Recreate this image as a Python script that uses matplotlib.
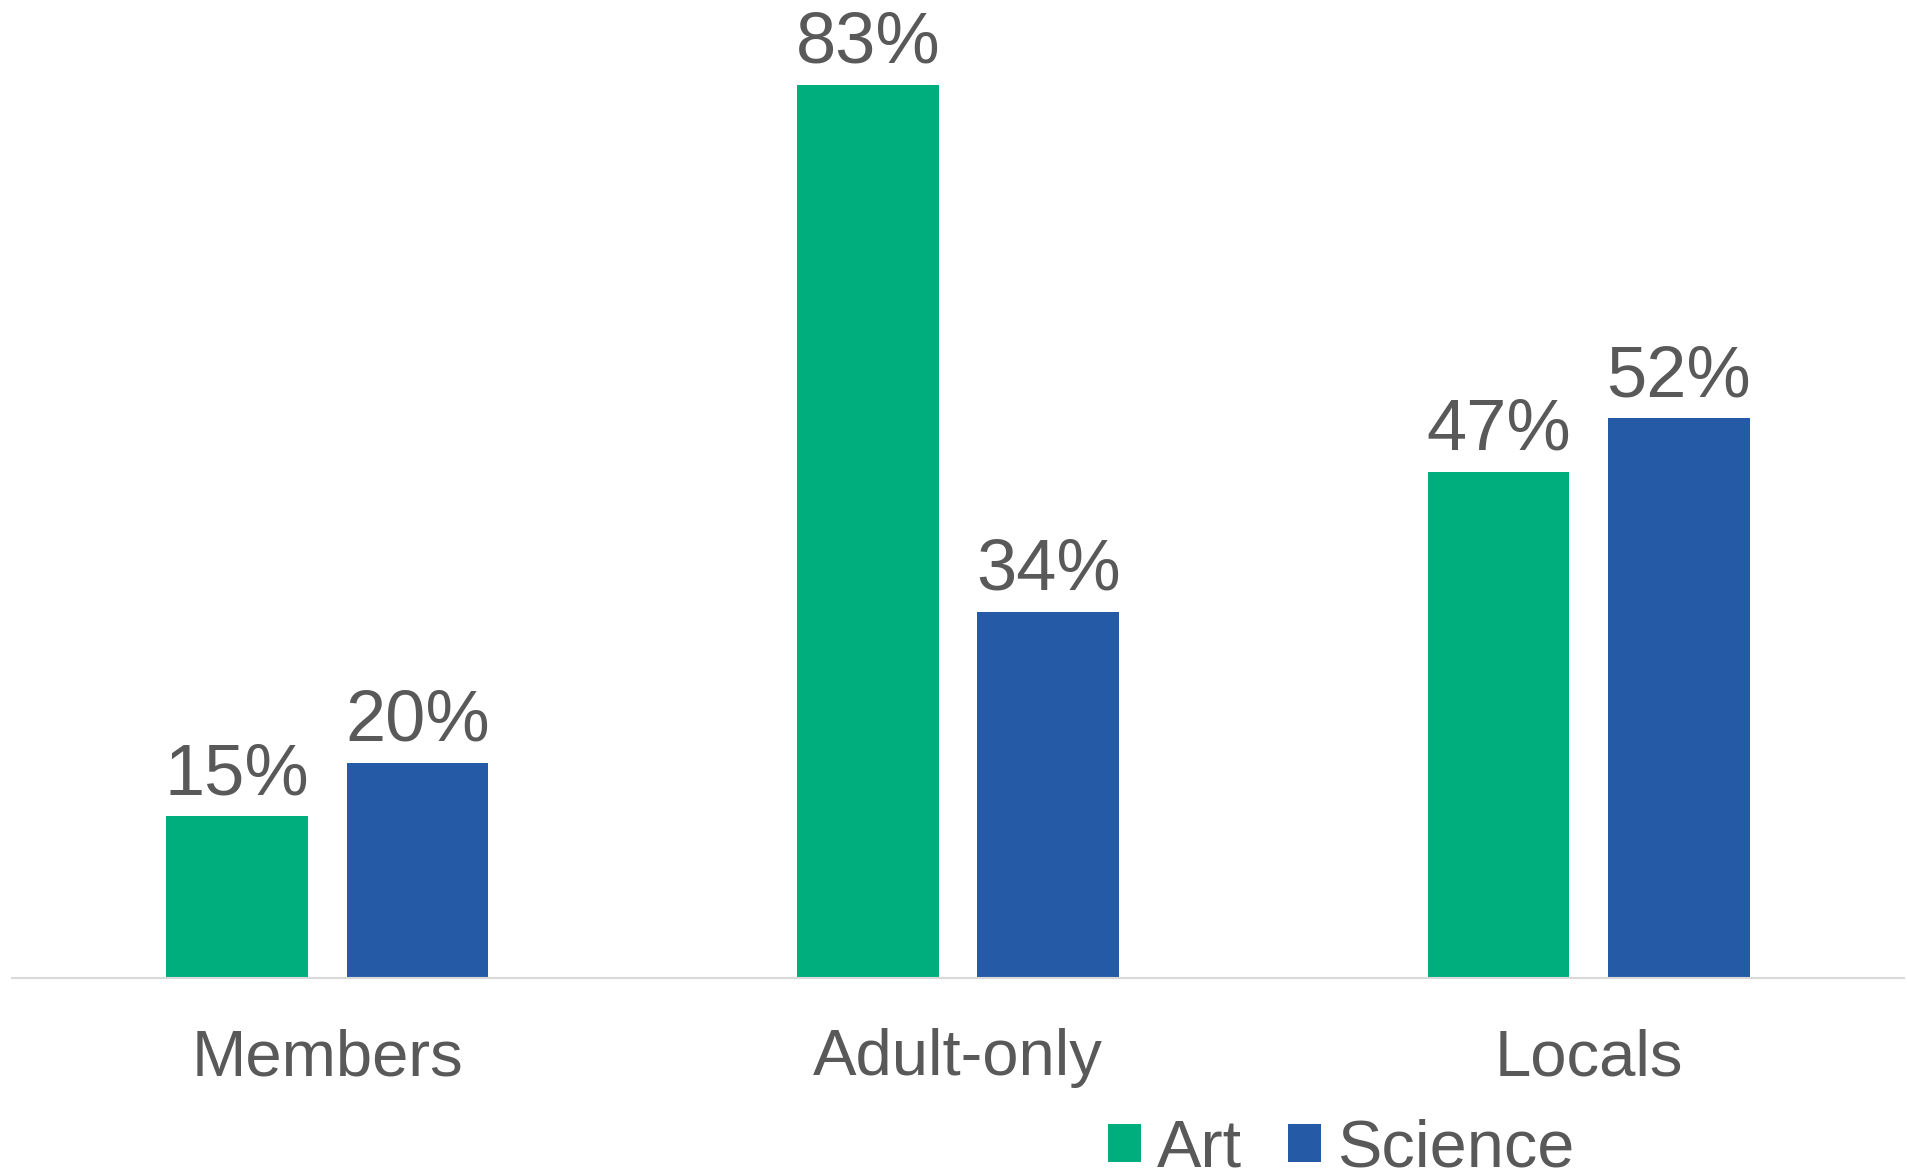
import matplotlib.pyplot as plt
import numpy as np

plt.rcParams['font.family'] = ['Liberation Sans', 'DejaVu Sans']

# Datos
categorias = ['Members', 'Adult-only', 'Locals']
series = ['Art', 'Science']
art = [15, 83, 47]
science = [20, 34, 52]

verde = '#00AE7D'
azul = '#255AA6'
gris = '#595959'

fig = plt.figure(figsize=(19.08, 11.74), dpi=100)
ax = fig.add_axes([0.0063, 0.167, 0.9916, 0.827])

x = np.arange(len(categorias))
ancho = 0.225
sep = 0.143

barras_art = ax.bar(x - sep, art, ancho, color=verde, label=series[0])
barras_sci = ax.bar(x + sep, science, ancho, color=azul, label=series[1])

# Etiquetas de valor encima de cada barra
for barras, valores in ((barras_art, art), (barras_sci, science)):
    for b, v in zip(barras, valores):
        ax.annotate(f'{v}%', (b.get_x() + b.get_width() / 2, v),
                    xytext=(0, 16), textcoords='offset points',
                    ha='center', va='baseline', fontsize=52, color=gris)

ax.set_xlim(-0.5, 2.5)
ax.set_ylim(0, 90.2)
ax.set_yticks([])
ax.set_xticks(x, categorias)
ax.tick_params(axis='x', length=0, pad=70, labelsize=47, labelcolor=gris)
for lab in ax.get_xticklabels():
    lab.set_verticalalignment('baseline')

for s in ['top', 'right', 'left']:
    ax.spines[s].set_visible(False)
ax.spines['bottom'].set_color('#D9D9D9')
ax.spines['bottom'].set_linewidth(1.5)

fig.legend(loc='center', bbox_to_anchor=(0.703, 0.021), ncol=2,
           frameon=False, fontsize=48, labelcolor=gris,
           handlelength=0.495, handleheight=0.495, handletextpad=0.24,
           columnspacing=0.69, borderpad=0, borderaxespad=0)

fig.savefig('out.png', dpi=100)
